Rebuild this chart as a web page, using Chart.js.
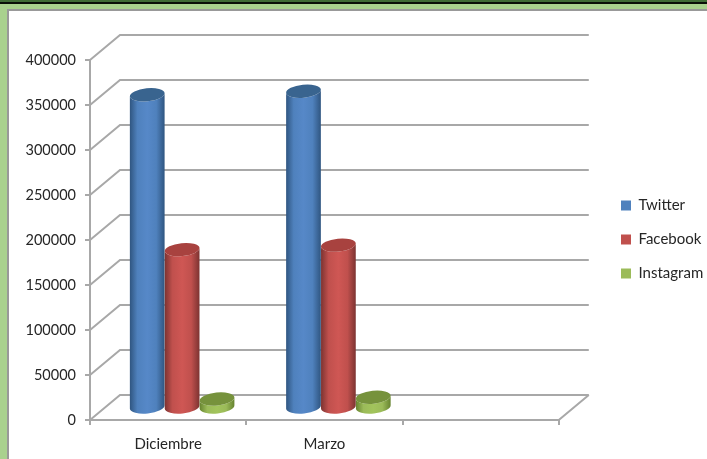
<!DOCTYPE html>
<html>
<head>
<meta charset="utf-8">
<title>Twitter Facebook Instagram</title>
<script src="https://cdn.jsdelivr.net/npm/chart.js@4/dist/chart.umd.js"></script>
<style>
    html, body { margin: 0; padding: 0; background: #a9d18e; overflow: hidden; }
    #topband { position: absolute; left: 0; top: 0; width: 707px; height: 4px; background: linear-gradient(#3f6b35 0, #3f6b35 2px, #0a0f08 2px, #0a0f08 4px); }
    #frame { position: absolute; left: 7px; top: 9px; width: 700px; height: 450px; background: #fff; border-left: 2px solid #999; border-top: 2px solid #999; box-sizing: border-box; }
    #myChart { position: absolute; left: 0; top: 0; }
</style>
</head>
<body>
<div id="topband"></div>
<div id="frame"></div>
<canvas id="myChart" width="707" height="459"></canvas>
<script>
const categories = ['Diciembre', 'Marzo', ''];
const twitter = [348000, 352000, null];
const facebook = [176000, 181000, null];
const instagram = [10000, 12000, null];

const colors = {
    Twitter: { fill: '#4f81bd', edge: '#2f5580', mid: '#5688c8', top: '#39648f' },
    Facebook: { fill: '#c0504d', edge: '#7c3331', mid: '#cf5754', top: '#a8423f' },
    Instagram: { fill: '#9bbb59', edge: '#66832f', mid: '#a2c45c', top: '#76923c' },
};

const depthX = 30;
const depthY = 25;
const barShiftX = 14;
const barShiftY = 12;
const gridColor = '#a8a8a8';

// draw one cylinder on the middle of the floor
function drawCylinder(ctx, bar, c) {
    const rx = bar.width / 2;
    const ry = 6.5;
    const tilt = -0.1;
    const x = bar.x + barShiftX;
    const top = bar.y - barShiftY;
    const bottom = bar.base - barShiftY;

    const grad = ctx.createLinearGradient(x - rx, 0, x + rx, 0);
    grad.addColorStop(0, c.edge);
    grad.addColorStop(0.22, c.fill);
    grad.addColorStop(0.5, c.mid);
    grad.addColorStop(0.76, c.fill);
    grad.addColorStop(1, c.edge);

    ctx.save();
    ctx.beginPath();
    ctx.ellipse(x, top, rx, ry, tilt, Math.PI, 0, true);
    ctx.ellipse(x, bottom, rx, ry, tilt, 0, Math.PI, false);
    ctx.closePath();
    ctx.fillStyle = grad;
    ctx.fill();

    ctx.beginPath();
    ctx.ellipse(x, top, rx, ry, tilt, 0, Math.PI * 2);
    ctx.fillStyle = c.top;
    ctx.fill();
    ctx.restore();
}

const wall3d = {
    id: 'wall3d',
    afterLayout(chart) {
        // legend sits closer to the right edge and above the middle
        chart.legend.left = 602;
        chart.legend.top -= 20;
        chart.legend.bottom -= 20;
    },
    beforeDatasetsDraw(chart) {
        const ctx = chart.ctx;
        const y = chart.scales.y;
        const area = chart.chartArea;

        ctx.save();
        ctx.strokeStyle = gridColor;
        ctx.lineWidth = 2;
        y.ticks.forEach(function (t) {
            const py = y.getPixelForValue(t.value);
            ctx.beginPath();
            ctx.moveTo(area.left, py);
            ctx.lineTo(area.left + depthX, py - depthY);
            ctx.lineTo(area.right + depthX, py - depthY);
            ctx.stroke();
        });
        // floor: front edge and right side
        ctx.beginPath();
        ctx.moveTo(area.left, area.bottom);
        ctx.lineTo(area.right, area.bottom);
        ctx.lineTo(area.right + depthX, area.bottom - depthY);
        ctx.stroke();
        ctx.restore();

        chart.data.datasets.forEach(function (ds, i) {
            chart.getDatasetMeta(i).data.forEach(function (bar, j) {
                if (ds.data[j] !== null) {
                    drawCylinder(ctx, bar, colors[ds.label]);
                }
            });
        });
    },
    beforeDatasetDraw() {
        return false;
    },
};

Chart.defaults.font.family = 'Lato, Carlito, sans-serif';
Chart.defaults.font.size = 15;
Chart.defaults.color = '#262626';

new Chart(document.getElementById('myChart'), {
    type: 'bar',
    data: {
        labels: categories,
        datasets: [
            { label: 'Twitter', data: twitter, backgroundColor: colors.Twitter.fill },
            { label: 'Facebook', data: facebook, backgroundColor: colors.Facebook.fill },
            { label: 'Instagram', data: instagram, backgroundColor: colors.Instagram.fill },
        ],
    },
    options: {
        responsive: false,
        animation: false,
        layout: { padding: { left: 8, top: 60, right: 0, bottom: 0 } },
        categoryPercentage: 0.67,
        barPercentage: 1,
        plugins: {
            tooltip: { enabled: false },
            legend: {
                position: 'right',
                labels: { boxWidth: 10, boxHeight: 10, padding: 19, color: '#262626' },
            },
        },
        scales: {
            x: {
                grid: { display: true, drawOnChartArea: false, tickLength: 5, tickColor: gridColor, lineWidth: 2, offset: true },
                border: { color: gridColor, width: 2 },
                ticks: { maxRotation: 0, padding: 10, color: '#262626' },
                afterFit(s) { s.height = 39; },
            },
            y: {
                min: 0,
                max: 400000,
                grid: { drawOnChartArea: false, tickLength: 5, tickColor: gridColor, lineWidth: 2 },
                border: { color: gridColor, width: 2 },
                ticks: {
                    stepSize: 50000,
                    padding: 9,
                    color: '#262626',
                    font: { size: 14.5 },
                    callback: function (value) { return String(value); },
                },
                afterFit(s) { s.width = 82; },
            },
            // keeps room for the depth of the walls
            depth: {
                position: 'right',
                display: true,
                grid: { display: false },
                border: { display: false },
                ticks: { display: false },
                afterFit(s) { s.width = 37; },
            },
        },
    },
    plugins: [wall3d],
});
</script>
</body>
</html>
